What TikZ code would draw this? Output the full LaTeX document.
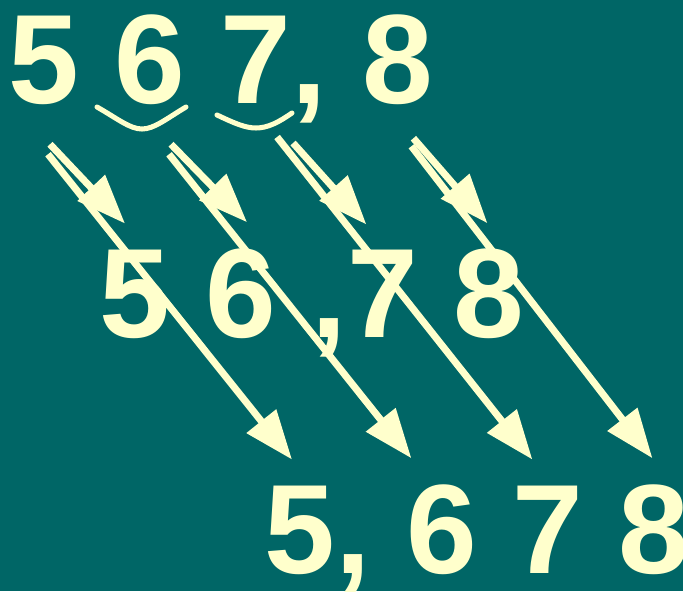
\documentclass[tikz,border=0pt]{standalone}
\usepackage{fontspec}
\setmainfont{Liberation Sans}
\usetikzlibrary{positioning,calc,arrows.meta}
\definecolor{boardteal}{HTML}{006666}
\definecolor{digitcream}{HTML}{FFFFCC}

\begin{document}
\begin{tikzpicture}[x=0.03cm, y=-0.03cm, node distance=1.06cm,
  every node/.style={inner sep=0pt, outer sep=0pt, text=digitcream, font=\fontsize{108.5}{108.5}\selectfont\bfseries},
  carry/.style={draw=digitcream, line width=6pt, -{Triangle[length=42pt,width=31pt]}},
  smile/.style={draw=digitcream, line width=4.3pt, line cap=round}]
  \useasboundingbox (0,0) rectangle (683,591);
  \fill[boardteal] (0,0) rectangle (683,591);
  % top row
  \node (r1a) [anchor=base] at (44,103) {5};
  \node (r1b) [base right=of r1a] {6};
  \node (r1c) [base right=of r1b] {7};
  \node (r1k) [base right=0pt of r1c] {,};
  \node (r1d) [base right=of r1k] {8};
  % middle row
  \node (r2a) [anchor=base] at (135,337) {5};
  \node (r2b) [base right=of r2a] {6};
  \node (r2k) [base right=of r2b] {,};
  \node (r2c) [base right=0pt of r2k] {7};
  \node (r2d) [base right=of r2c] {8};
  % bottom row
  \node (r3a) [anchor=base] at (300,573) {5};
  \node (r3k) [base right=0pt of r3a] {,};
  \node (r3b) [base right=of r3k] {6};
  \node (r3c) [base right=of r3b] {7};
  \node (r3d) [base right=of r3c] {8};
  % smiles under 6 and 7
  \draw[smile] (97,107) .. controls (118,119) and (130,129) .. (142,129) .. controls (154,129) and (166,119) .. (186,107);
  \draw[smile] (217,115) .. controls (234,123) and (245,128) .. (256,128) .. controls (268,128) and (279,122) .. (292,113);
  % short arrows
  \draw[carry] ($(r1a.south)+(6,40)$) -- ($(r2a.north)+(-10,-26)$);
  \draw[carry] ($(r1b.south)+(21,40)$) -- ($(r2b.north)+(6,-26)$);
  \draw[carry] ($(r1c.south)+(37,40)$) -- ($(r2c.north)+(-16,-25)$);
  \draw[carry] ($(r1d.south)+(16,34)$) -- ($(r2d.north)+(-1,-25)$);
  % long arrows
  \draw[carry] ($(r1a.south)+(4,50)$) -- ($(r3a.north)+(-8,-26)$);
  \draw[carry] ($(r1b.south)+(19,50)$) -- ($(r3b.north)+(-30,-26)$);
  \draw[carry] ($(r1c.south)+(21,34)$) -- ($(r3c.north)+(-15,-26)$);
  \draw[carry] ($(r1d.south)+(14,42)$) -- ($(r3d.north)+(-1,-26)$);
\end{tikzpicture}
\end{document}
